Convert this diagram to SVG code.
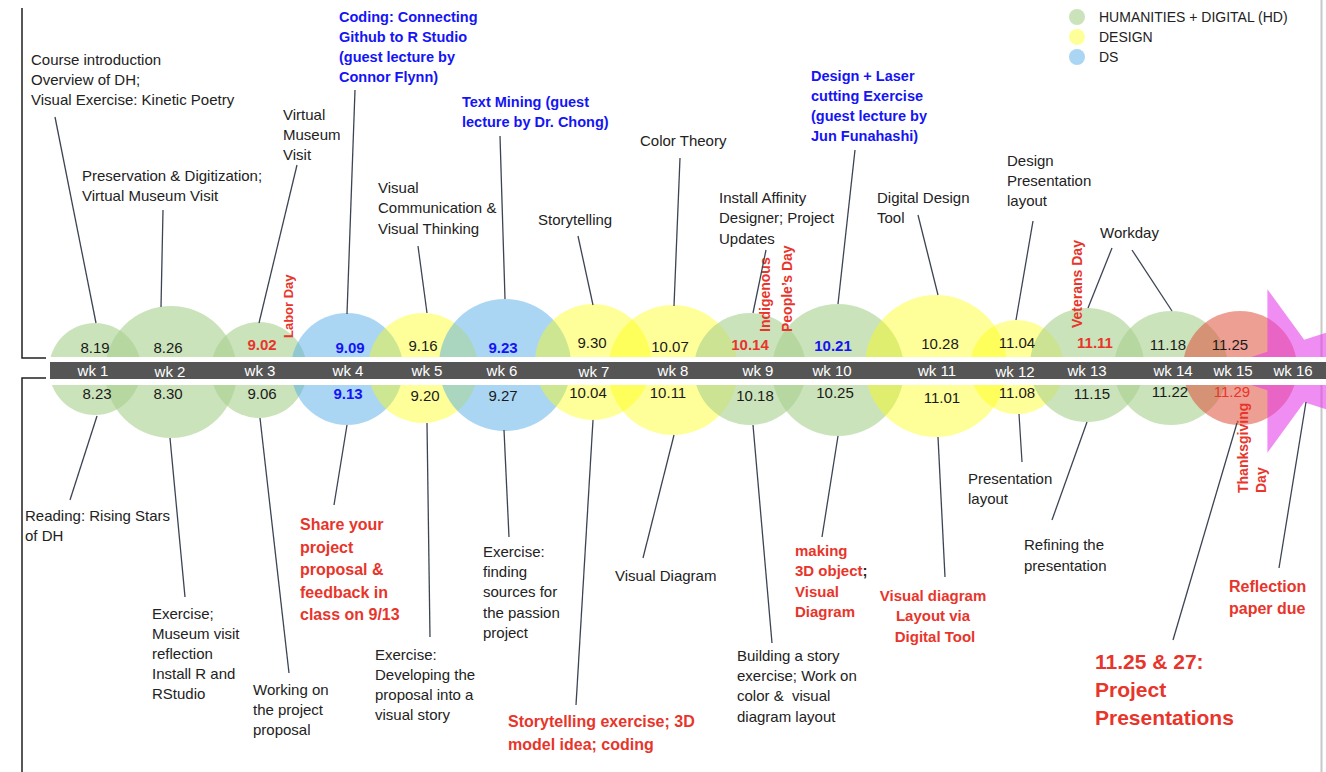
<svg xmlns="http://www.w3.org/2000/svg" width="1326" height="772" viewBox="0 0 1326 772">
<defs>
<style>
.t{font-family:"Liberation Sans",Arial,sans-serif;font-size:15px;fill:#222}
.lg{font-size:14px}
.rb{font-family:"Liberation Sans",Arial,sans-serif;font-weight:bold;fill:#e8352b;font-size:16px}
.r15{font-size:15px}
.r21{font-size:21px}
.bb{font-family:"Liberation Sans",Arial,sans-serif;font-weight:bold;fill:#1414f5;font-size:14.5px}
.d{font-family:"Liberation Sans",Arial,sans-serif;font-size:15px;text-anchor:middle;fill:#1a1a1a}
.dr{fill:#e8352b;font-weight:bold}
.drn{fill:#e8352b}
.db{fill:#1414f5;font-weight:bold}
.wk{font-family:"Liberation Sans",Arial,sans-serif;font-size:15px;text-anchor:middle;fill:#fff}
.vr{font-family:"Liberation Sans",Arial,sans-serif;font-weight:bold;fill:#e8352b;font-size:14px}
.v13{font-size:13px}
.mid{text-anchor:middle}
.g{fill:#a9d18e;fill-opacity:0.6}
.y{fill:#ffff00;fill-opacity:0.4}
.b{fill:#56aee8;fill-opacity:0.5}
.s{fill:#e0503c;fill-opacity:0.55}
.st{fill:#e33ae8;fill-opacity:0.58}
.c line{stroke:#3c4454;stroke-width:1.3}
</style>
</defs>
<rect width="1326" height="772" fill="#fff"/>
<line x1="1321.5" y1="0" x2="1321.5" y2="772" stroke="#c8c8c8" stroke-width="2"/>
<polyline points="22,8 22,358 46,358" fill="none" stroke="#222" stroke-width="1.5"/>
<polyline points="46,378 22,378 22,772" fill="none" stroke="#222" stroke-width="1.5"/>

<g id="circles">
<circle id="wk1" class="g" cx="95" cy="369" r="46"/>
<circle id="wk2" class="g" cx="171" cy="372" r="66"/>
<circle id="wk3" class="g" cx="259" cy="370" r="48"/>
<circle id="wk4" class="b" cx="347" cy="369" r="56"/>
<circle id="wk5" class="y" cx="423" cy="368" r="55"/>
<circle id="wk6" class="b" cx="505" cy="365" r="66"/>
<circle id="wk7" class="y" cx="593" cy="362" r="58"/>
<circle id="wk8" class="y" cx="673" cy="370" r="65"/>
<circle id="wk9" class="g" cx="750" cy="369" r="56"/>
<circle id="wk10" class="g" cx="838" cy="370" r="66"/>
<circle id="wk11" class="y" cx="936" cy="366" r="71"/>
<circle id="wk12" class="y" cx="1017" cy="367" r="47"/>
<circle id="wk13" class="g" cx="1087" cy="365" r="57"/>
<circle id="wk14" class="g" cx="1171" cy="368" r="57"/>
<circle id="wk15" class="s" cx="1240" cy="368" r="57"/>
<polygon id="wk16" class="st" points="1208,371 1267.4,351.7 1267.4,289.2 1304.2,339.7 1363.6,320.5 1326.9,371 1363.6,421.5 1304.2,402.3 1267.4,452.8 1267.4,390.3"/>
</g>

<rect x="48" y="357" width="1278" height="28" fill="#fff"/>
<rect x="50" y="362" width="1276" height="17" fill="#555"/>

<g id="weeks">
<text class="wk" x="93" y="376">wk 1</text>
<text class="wk" x="170" y="377">wk 2</text>
<text class="wk" x="260" y="376">wk 3</text>
<text class="wk" x="348" y="376">wk 4</text>
<text class="wk" x="427" y="376">wk 5</text>
<text class="wk" x="502" y="376">wk 6</text>
<text class="wk" x="594" y="377">wk 7</text>
<text class="wk" x="673" y="376">wk 8</text>
<text class="wk" x="758" y="376">wk 9</text>
<text class="wk" x="832" y="376">wk 10</text>
<text class="wk" x="937" y="376">wk 11</text>
<text class="wk" x="1015" y="377">wk 12</text>
<text class="wk" x="1087" y="376">wk 13</text>
<text class="wk" x="1173" y="376">wk 14</text>
<text class="wk" x="1233" y="376">wk 15</text>
<text class="wk" x="1293" y="376">wk 16</text>
</g>

<g id="dates-top">
<text class="d" x="95" y="353">8.19</text>
<text class="d" x="168" y="353">8.26</text>
<text class="d dr" x="262" y="350">9.02</text>
<text class="d db" x="350" y="353">9.09</text>
<text class="d" x="423" y="351">9.16</text>
<text class="d db" x="503" y="353">9.23</text>
<text class="d" x="592" y="348">9.30</text>
<text class="d" x="670" y="352">10.07</text>
<text class="d dr" x="750" y="350">10.14</text>
<text class="d db" x="833" y="351">10.21</text>
<text class="d" x="940" y="349">10.28</text>
<text class="d" x="1017" y="348">11.04</text>
<text class="d dr" x="1095" y="348">11.11</text>
<text class="d" x="1168" y="350">11.18</text>
<text class="d" x="1230" y="350">11.25</text>
</g>

<g id="dates-bottom">
<text class="d" x="97" y="399">8.23</text>
<text class="d" x="168" y="399">8.30</text>
<text class="d" x="262" y="399">9.06</text>
<text class="d db" x="348" y="399">9.13</text>
<text class="d" x="425" y="401">9.20</text>
<text class="d" x="503" y="401">9.27</text>
<text class="d" x="588" y="398">10.04</text>
<text class="d" x="668" y="398">10.11</text>
<text class="d" x="755" y="401">10.18</text>
<text class="d" x="835" y="398">10.25</text>
<text class="d" x="942" y="403">11.01</text>
<text class="d" x="1017" y="398">11.08</text>
<text class="d" x="1092" y="399">11.15</text>
<text class="d" x="1170" y="397">11.22</text>
<text class="d drn" x="1232" y="397">11.29</text>
</g>

<g id="holidays">
<text class="vr v13" transform="translate(293,338) rotate(-90)">Labor Day</text>
<text class="vr" transform="translate(770,332) rotate(-90)">Indigenous</text>
<text class="vr" transform="translate(792,332) rotate(-90)">People’s Day</text>
<text class="vr" transform="translate(1082,328) rotate(-90)">Veterans Day</text>
<text class="vr" transform="translate(1248,493) rotate(-90)">Thanksgiving</text>
<text class="vr" transform="translate(1266,493) rotate(-90)">Day</text>
</g>

<g id="legend">
<circle class="g" cx="1077" cy="17" r="8"/>
<circle class="y" cx="1077" cy="37" r="8"/>
<circle class="b" cx="1077" cy="57" r="8"/>
<text class="t lg" x="1099" y="22">HUMANITIES + DIGITAL (HD)</text>
<text class="t lg" x="1099" y="42">DESIGN</text>
<text class="t lg" x="1099" y="62">DS</text>
</g>

<g class="c" id="connectors">
<line x1="55" y1="117" x2="96" y2="323"/>
<line x1="163" y1="210" x2="161" y2="307"/>
<line x1="297" y1="165" x2="259" y2="323"/>
<line x1="355" y1="90" x2="347" y2="314"/>
<line x1="418" y1="246" x2="427" y2="313"/>
<line x1="500" y1="136" x2="505" y2="299"/>
<line x1="578" y1="236" x2="593" y2="305"/>
<line x1="680" y1="158" x2="674" y2="306"/>
<line x1="766" y1="250" x2="753" y2="313"/>
<line x1="855" y1="150" x2="838" y2="304"/>
<line x1="918" y1="215" x2="938" y2="295"/>
<line x1="1033" y1="221" x2="1016" y2="320"/>
<line x1="1112" y1="248" x2="1088" y2="308"/>
<line x1="1132" y1="250" x2="1172" y2="311"/>
<line x1="97" y1="416" x2="70" y2="500"/>
<line x1="170" y1="438" x2="185" y2="597"/>
<line x1="260" y1="418" x2="289" y2="673"/>
<line x1="347" y1="425" x2="334" y2="505"/>
<line x1="427" y1="423" x2="430" y2="637"/>
<line x1="504" y1="430" x2="509" y2="537"/>
<line x1="593" y1="420" x2="576" y2="705"/>
<line x1="674" y1="435" x2="643" y2="558"/>
<line x1="753" y1="425" x2="772" y2="643"/>
<line x1="838" y1="436" x2="822" y2="537"/>
<line x1="938" y1="437" x2="945" y2="577"/>
<line x1="1019" y1="414" x2="1022" y2="462"/>
<line x1="1087" y1="422" x2="1052" y2="520"/>
<line x1="1237" y1="423" x2="1173" y2="640"/>
<line x1="1306" y1="402" x2="1279" y2="568"/>
</g>

<g id="top-labels">
<text class="t" x="31" y="65">Course introduction</text>
<text class="t" x="31" y="85">Overview of DH;</text>
<text class="t" x="31" y="105">Visual Exercise: Kinetic Poetry</text>
<text class="t" x="82" y="181">Preservation &amp; Digitization;</text>
<text class="t" x="82" y="201">Virtual Museum Visit</text>
<text class="t" x="283" y="120">Virtual</text>
<text class="t" x="283" y="140">Museum</text>
<text class="t" x="283" y="160">Visit</text>
<text class="bb" x="339" y="22">Coding: Connecting</text>
<text class="bb" x="339" y="42">Github to R Studio</text>
<text class="bb" x="339" y="62">(guest lecture by</text>
<text class="bb" x="339" y="82">Connor Flynn)</text>
<text class="t" x="378" y="193">Visual</text>
<text class="t" x="378" y="213">Communication &amp;</text>
<text class="t" x="378" y="234">Visual Thinking</text>
<text class="bb" x="462" y="107">Text Mining (guest</text>
<text class="bb" x="462" y="127">lecture by Dr. Chong)</text>
<text class="t" x="538" y="225">Storytelling</text>
<text class="t" x="640" y="146">Color Theory</text>
<text class="t" x="719" y="203">Install Affinity</text>
<text class="t" x="719" y="223">Designer; Project</text>
<text class="t" x="719" y="244">Updates</text>
<text class="bb" x="811" y="81">Design + Laser</text>
<text class="bb" x="811" y="101">cutting Exercise</text>
<text class="bb" x="811" y="121">(guest lecture by</text>
<text class="bb" x="811" y="141">Jun Funahashi)</text>
<text class="t" x="877" y="203">Digital Design</text>
<text class="t" x="877" y="223">Tool</text>
<text class="t" x="1007" y="166">Design</text>
<text class="t" x="1007" y="186">Presentation</text>
<text class="t" x="1007" y="206">layout</text>
<text class="t" x="1100" y="238">Workday</text>
</g>

<g id="bottom-labels">
<text class="t" x="25" y="521">Reading: Rising Stars</text>
<text class="t" x="25" y="541">of DH</text>
<text class="t" x="152" y="619">Exercise;</text>
<text class="t" x="152" y="639">Museum visit</text>
<text class="t" x="152" y="659">reflection</text>
<text class="t" x="152" y="679">Install R and</text>
<text class="t" x="152" y="699">RStudio</text>
<text class="t" x="253" y="695">Working on</text>
<text class="t" x="253" y="715">the project</text>
<text class="t" x="253" y="735">proposal</text>
<text class="rb" x="300" y="530">Share your</text>
<text class="rb" x="300" y="553">project</text>
<text class="rb" x="300" y="575">proposal &amp;</text>
<text class="rb" x="300" y="598">feedback in</text>
<text class="rb" x="300" y="620">class on 9/13</text>
<text class="t" x="375" y="660">Exercise:</text>
<text class="t" x="375" y="680">Developing the</text>
<text class="t" x="375" y="700">proposal into a</text>
<text class="t" x="375" y="720">visual story</text>
<text class="t" x="483" y="557">Exercise:</text>
<text class="t" x="483" y="577">finding</text>
<text class="t" x="483" y="597">sources for</text>
<text class="t" x="483" y="618">the passion</text>
<text class="t" x="483" y="638">project</text>
<text class="rb" x="508" y="727">Storytelling exercise; 3D</text>
<text class="rb" x="508" y="750">model idea; coding</text>
<text class="t" x="615" y="581">Visual Diagram</text>
<text class="t" x="737" y="661">Building a story</text>
<text class="t" x="737" y="681">exercise; Work on</text>
<text class="t" x="737" y="701">color &amp;&#160; visual</text>
<text class="t" x="737" y="722">diagram layout</text>
<text class="rb r15" x="795" y="556">making</text>
<text class="rb r15" x="795" y="576">3D object<tspan fill="#222">;</tspan></text>
<text class="rb r15" x="795" y="597">Visual</text>
<text class="rb r15" x="795" y="617">Diagram</text>
<text class="rb r15 mid" x="933" y="601">Visual diagram</text>
<text class="rb r15 mid" x="933" y="621">Layout via</text>
<text class="rb r15 mid" x="935" y="642">Digital Tool</text>
<text class="t" x="968" y="484">Presentation</text>
<text class="t" x="968" y="504">layout</text>
<text class="t" x="1024" y="550">Refining the</text>
<text class="t" x="1024" y="571">presentation</text>
<text class="rb r21" x="1095" y="669">11.25 &amp; 27:</text>
<text class="rb r21" x="1095" y="697">Project</text>
<text class="rb r21" x="1095" y="725">Presentations</text>
<text class="rb" x="1229" y="592">Reflection</text>
<text class="rb" x="1229" y="614">paper due</text>
</g>
</svg>
